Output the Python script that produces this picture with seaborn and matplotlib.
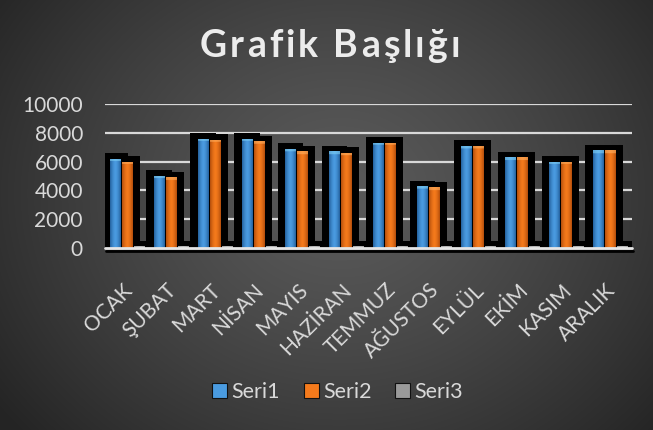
import numpy as np
import pandas as pd
import matplotlib
matplotlib.use("Agg")
import matplotlib.pyplot as plt
import matplotlib.patheffects as pe
from matplotlib.patches import Rectangle, Patch
from matplotlib.transforms import ScaledTranslation
import seaborn as sns

# data
aylar = ["OCAK", "ŞUBAT", "MART", "NİSAN", "MAYIS", "HAZİRAN",
         "TEMMUZ", "AĞUSTOS", "EYLÜL", "EKİM", "KASIM", "ARALIK"]
seri1 = [6200, 5000, 7600, 7600, 6900, 6700, 7300, 4300, 7100, 6300, 6000, 6800]
seri2 = [6000, 4900, 7500, 7400, 6700, 6600, 7300, 4200, 7100, 6300, 6000, 6800]
seri3 = [120, 120, 120, 120, 120, 120, 120, 120, 120, 120, 120, 120]
seri_adlari = ["Seri1", "Seri2", "Seri3"]
y_ticks = [0, 2000, 4000, 6000, 8000, 10000]
baslik = "Grafik Başlığı"

# (dark edge, light center, top cap)
renkler = {
    "Seri1": ("#2563a0", "#4a9be0", "#7fd0f5"),
    "Seri2": ("#b54f0c", "#f47a1c", "#ffb060"),
    "Seri3": ("#5a5a5a", "#9a9a9a", "#cfcfcf"),
}

df = pd.DataFrame({
    "ay": aylar * 3,
    "deger": seri1 + seri2 + seri3,
    "seri": [s for s in seri_adlari for _ in aylar],
})

sns.set_theme(style="white")
plt.rcParams["font.family"] = ["Lato", "DejaVu Sans"]
text_col = "#d9d9d9"

fig = plt.figure(figsize=(6.53, 4.30), dpi=100)

# radial gray background
bg = fig.add_axes([0, 0, 1, 1], zorder=-10)
yy, xx = np.mgrid[0:1:430j, 0:1:653j]
r = np.sqrt(((xx - 0.52) * 1.3) ** 2 + (yy - 0.45) ** 2)
r = np.clip(r / 0.85, 0, 1)
c_mid, c_edge = 0x5a / 255, 0x24 / 255
shade = c_mid + (c_edge - c_mid) * r ** 1.3
bg.imshow(np.dstack([shade] * 3), aspect="auto", extent=(0, 1, 0, 1))
bg.axis("off")

ax = fig.add_axes([0.161, 0.4233, 0.807, 0.335])
ax.set_facecolor("none")

sns.barplot(data=df, x="ay", y="deger", hue="seri", palette=[renkler[s][1] for s in seri_adlari],
            width=0.82, gap=0.12, legend=False, ax=ax, zorder=3, linewidth=0)

bars = list(ax.patches)
for i, p in enumerate(bars):
    seri = seri_adlari[i // len(aylar)]
    x0, w, h = p.get_x(), p.get_width(), p.get_height()
    cx = x0 + w / 2
    # big black shadow behind each bar
    ax.add_patch(Rectangle((cx - 1.2 * w, -250), 2.4 * w, h + 250 + 380,
                           facecolor="black", edgecolor="none", zorder=2))
    # gradient fill clipped to the bar
    dark, light, cap = (np.array(matplotlib.colors.to_rgb(c)) for c in renkler[seri])
    t = np.linspace(0, 1, 24)
    prof = 1 - np.abs(2 * t - 1) ** 1.6
    row = dark[None, :] + (light - dark)[None, :] * prof[:, None]
    n = 120
    ys = np.linspace(h, 0, n)
    img = np.repeat(row[None, :, :], n, axis=0)
    capmask = (h - ys) < 180
    img[capmask] = img[capmask] * 0.4 + cap * 0.6
    im = ax.imshow(img, extent=(x0, x0 + w, 0, h), aspect="auto", zorder=3.5)
    im.set_clip_path(p)

ax.set_xlim(-0.5, len(aylar) - 0.5)
ax.set_ylim(0, 10000)
ax.set_yticks(y_ticks)
ax.set_yticklabels([str(v) for v in y_ticks])
ax.set_xlabel("")
ax.set_ylabel("")

for v in y_ticks[1:]:
    ax.axhline(v, color=text_col, lw=1.6, zorder=1)
base = ax.axhline(0, color="#e6e6e6", lw=2.0, zorder=4)
base.set_path_effects([pe.SimpleLineShadow(offset=(0.5, -2), shadow_color="black", alpha=1),
                       pe.Normal()])
base.set_clip_on(False)

for s in ax.spines.values():
    s.set_visible(False)

ax.tick_params(axis="y", length=0, pad=16, labelsize=15, labelcolor=text_col)
ax.tick_params(axis="x", length=0, pad=28, labelsize=15, labelcolor=text_col)
off = ScaledTranslation(0.02, 0, fig.dpi_scale_trans)
for lbl in ax.get_xticklabels():
    lbl.set_rotation(45)
    lbl.set_rotation_mode("anchor")
    lbl.set_ha("right")
    lbl.set_va("center")
    lbl.set_transform(lbl.get_transform() + off)

# title with letter spacing: place character by character
renderer = fig.canvas.get_renderer()
title_kw = dict(color="#ececec", fontsize=27, fontweight="bold", va="baseline", ha="left")
genislik = []
for ch in baslik:
    if ch == " ":
        a = fig.text(0, 0, "aa", **title_kw).get_window_extent(renderer).width
        b = fig.text(0, 0, "a a", **title_kw).get_window_extent(renderer).width
        genislik.append(b - a)
    else:
        genislik.append(fig.text(0, 0, ch, **title_kw).get_window_extent(renderer).width)
for t in list(fig.texts):
    t.remove()
x_sol, x_sag = 200, 460
aralik = (x_sag - x_sol - sum(genislik)) / (len(baslik) - 1)
x = x_sol
for ch, wd in zip(baslik, genislik):
    fig.text(x / 653, 1 - 57.3 / 430, ch, **title_kw)
    x += wd + aralik

handles = [Patch(facecolor=renkler[s][1], edgecolor="#111111", linewidth=0.8) for s in seri_adlari]
fig.legend(handles, seri_adlari, loc="center", bbox_to_anchor=(0.517, 0.088), ncol=3,
           frameon=False, handlelength=0.7, handleheight=0.7, handletextpad=0.2,
           columnspacing=1.1, fontsize=15.5, labelcolor=text_col)

fig.savefig("out.png", dpi=100)
